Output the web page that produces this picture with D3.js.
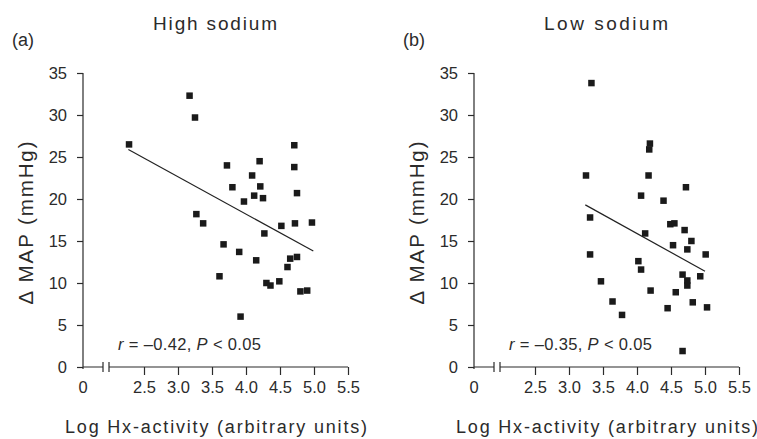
<!DOCTYPE html>
<html>
<head>
<meta charset="utf-8">
<script src="https://cdn.jsdelivr.net/npm/d3@7"></script>
<style>
  body { margin: 0; background: #fff; }
  svg { display: block; font-family: "Liberation Sans", Arial, sans-serif; }
  .axis path, .axis line { stroke: #2b2b2b; stroke-width: 1.2; }
  .axis text { fill: #2b2b2b; font-size: 16.5px; }
  .label { fill: #2b2b2b; }
</style>
</head>
<body>
<div id="chart"></div>
<script>

// High sodium panel (a): log Hx-activity vs delta MAP
let highX = [2.28, 3.17, 3.25, 3.27, 3.37, 3.61, 3.67, 3.72, 3.80, 3.90, 3.92, 3.97, 4.09, 4.12, 4.15, 4.20, 4.21,
             4.25, 4.27, 4.30, 4.36, 4.49, 4.52, 4.61, 4.65, 4.71, 4.71, 4.72, 4.75, 4.75, 4.80, 4.90, 4.97];
let highY = [26.5, 32.3, 29.7, 18.2, 17.1, 10.8, 14.6, 24.0, 21.4, 13.7, 6.0, 19.7, 22.8, 20.4, 12.7, 24.5, 21.5,
             20.1, 15.9, 10.0, 9.7, 10.2, 16.8, 11.9, 12.9, 26.4, 23.8, 17.1, 20.7, 13.1, 9.0, 9.1, 17.2];
let highFitX = [2.27, 4.99];
let highFitY = [25.9, 13.8];

// Low sodium panel (b)
let lowX = [3.25, 3.33, 3.31, 3.31, 3.47, 3.64, 3.78, 4.02, 4.06, 4.06, 4.12, 4.17, 4.18, 4.19, 4.20, 4.39, 4.45,
            4.49, 4.55, 4.53, 4.57, 4.67, 4.67, 4.70, 4.72, 4.74, 4.74, 4.74, 4.80, 4.82, 4.93, 5.01, 5.03];
let lowY = [22.8, 33.8, 17.8, 13.4, 10.2, 7.8, 6.2, 12.6, 20.4, 11.6, 15.9, 22.8, 25.9, 26.6, 9.1, 19.8, 7.0,
            17.0, 17.1, 14.5, 8.9, 1.9, 11.0, 16.3, 21.4, 14.0, 10.3, 9.7, 15.0, 7.7, 10.8, 13.4, 7.1];
let lowFitX = [3.24, 5.00];
let lowFitY = [19.3, 11.4];

let xTicks = [2.5, 3.0, 3.5, 4.0, 4.5, 5.0, 5.5];
let yTicks = [0, 5, 10, 15, 20, 25, 30, 35];

let panels = [
    {letter: "(a)", title: "High sodium", r: "\u20130.42", xs: highX, ys: highY, fitX: highFitX, fitY: highFitY},
    {letter: "(b)", title: "Low sodium",  r: "\u20130.35", xs: lowX,  ys: lowY,  fitX: lowFitX,  fitY: lowFitY}
];

let chart = {
    width: 757,
    height: 439,
    panelOffset: 391,
    originX: 83,
    top: 73,
    bottom: 367
};

let svg = d3.select("#chart").append("svg")
    .attr("width", chart.width)
    .attr("height", chart.height);

panels.forEach(function (p, i) {

    let g = svg.append("g")
        .attr("transform", "translate(" + (i * chart.panelOffset) + ",0)");

    let x = d3.scaleLinear().domain([2.5, 5.5]).range([144, 348]);
    let y = d3.scaleLinear().domain([0, 35]).range([chart.bottom, chart.top]);

    // y axis
    g.append("g")
        .attr("class", "axis")
        .attr("transform", "translate(" + chart.originX + ",0)")
        .call(d3.axisLeft(y).tickValues(yTicks).tickSize(6).tickSizeOuter(0).tickPadding(10))
        .call(a => a.select(".domain").attr("d", "M0," + chart.top + "V" + (chart.bottom + 2)));

    // x axis, with a break between 0 and 2.5
    let xa = g.append("g")
        .attr("class", "axis")
        .attr("transform", "translate(0," + chart.bottom + ")")
        .call(d3.axisBottom(x).tickValues(xTicks).tickFormat(d3.format(".1f")).tickSize(8).tickPadding(6));
    xa.select(".domain").remove();

    let b1 = chart.originX + 20, b2 = chart.originX + 26;
    xa.append("path")
        .attr("fill", "none")
        .attr("d", "M" + chart.originX + ",0H" + b1 + "M" + b1 + ",-5V5M" + b2 + ",-5V5M" + b2 + ",0H" + x(5.5));

    xa.append("text")
        .attr("x", chart.originX)
        .attr("y", 14)
        .attr("dy", "0.71em")
        .attr("text-anchor", "middle")
        .text("0");

    // regression line
    let fit = p.fitX.map((v, k) => ({x: v, y: p.fitY[k]}));
    g.append("path")
        .datum(fit)
        .attr("fill", "none")
        .attr("stroke", "#222")
        .attr("stroke-width", 1.2)
        .attr("d", d3.line().x(d => x(d.x)).y(d => y(d.y)));

    // data points
    let pts = p.xs.map((v, k) => ({x: v, y: p.ys[k]}));
    let s = 6.5;
    g.append("g")
        .selectAll("rect")
        .data(pts)
        .enter()
        .append("rect")
        .attr("x", d => x(d.x) - s / 2)
        .attr("y", d => y(d.y) - s / 2)
        .attr("width", s)
        .attr("height", s)
        .attr("fill", "#1a1a1a");

    // titles and labels
    g.append("text")
        .attr("class", "label")
        .attr("x", 215).attr("y", 30)
        .attr("text-anchor", "middle")
        .attr("font-size", 19)
        .attr("textLength", 124)
        .text(p.title);

    g.append("text")
        .attr("class", "label")
        .attr("x", 12).attr("y", 46)
        .attr("font-size", 18)
        .text(p.letter);

    g.append("text")
        .attr("class", "label")
        .attr("transform", "translate(33,223) rotate(-90)")
        .attr("text-anchor", "middle")
        .attr("font-size", 20.5)
        .attr("textLength", 163)
        .text("\u0394 MAP (mmHg)");

    g.append("text")
        .attr("class", "label")
        .attr("x", 216).attr("y", 433)
        .attr("text-anchor", "middle")
        .attr("font-size", 18)
        .attr("textLength", 302)
        .text("Log Hx-activity (arbitrary units)");

    let ann = g.append("text")
        .attr("class", "label")
        .attr("x", 118).attr("y", 350)
        .attr("font-size", 16.5)
        .attr("textLength", 143);
    ann.append("tspan").attr("font-style", "italic").text("r");
    ann.append("tspan").text(" = " + p.r + ", ");
    ann.append("tspan").attr("font-style", "italic").text("P");
    ann.append("tspan").text(" < 0.05");
});

</script>
</body>
</html>
